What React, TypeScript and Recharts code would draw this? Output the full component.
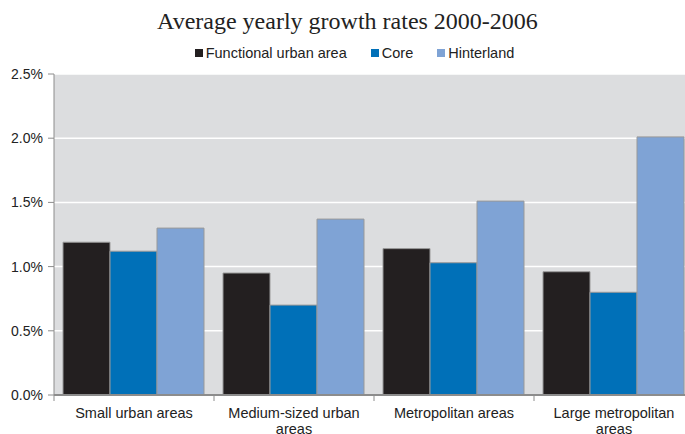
import { BarChart, Bar, XAxis, YAxis, CartesianGrid } from 'recharts'

const categories = [
  'Small urban areas',
  'Medium-sized urban areas',
  'Metropolitan areas',
  'Large metropolitan areas',
]
// label line breaks as printed
const labelLines = [
  ['Small urban areas'],
  ['Medium-sized urban', 'areas'],
  ['Metropolitan areas'],
  ['Large metropolitan', 'areas'],
]
const functionalUrban = [1.19, 0.95, 1.14, 0.96]
const core = [1.12, 0.7, 1.03, 0.8]
const hinterland = [1.3, 1.37, 1.51, 2.01]
const yTicks = [0, 0.5, 1, 1.5, 2, 2.5]

const COLORS = { fua: '#231f20', core: '#0070b8', hinter: '#7fa3d5' }
const FONT = '"Liberation Sans", Arial, sans-serif'

const data = categories.map((c, i) => ({
  name: c,
  fua: functionalUrban[i],
  core: core[i],
  hinter: hinterland[i],
}))

const CHART_W = 694
const Y_W = 54
const HALF_BAND = (CHART_W - Y_W) / categories.length / 2

function CategoryTick(props: any) {
  const { x, y, payload, index } = props
  const lines = labelLines[index] ?? [payload.value]
  return (
    <g>
      <line x1={x - HALF_BAND} x2={x - HALF_BAND} y1={y} y2={y + 6} stroke="#8c8c8c" />
      {lines.map((l: string, i: number) => (
        <text
          key={i}
          x={x}
          y={y + 23 + i * 16}
          textAnchor="middle"
          fontSize={14.5}
          fontFamily={FONT}
          fill="#222"
        >
          {l}
        </text>
      ))}
    </g>
  )
}

const legendItems = [
  { label: 'Functional urban area', color: COLORS.fua },
  { label: 'Core', color: COLORS.core },
  { label: 'Hinterland', color: COLORS.hinter },
]

export default function App() {
  return (
    <div
      style={{
        position: 'absolute',
        left: 0,
        top: 0,
        width: 685,
        height: 434,
        overflow: 'hidden',
        background: '#fff',
      }}
    >
      <div
        style={{
          position: 'absolute',
          top: 8,
          left: 5,
          width: 685,
          textAlign: 'center',
          fontFamily: '"Liberation Serif", "Times New Roman", serif',
          fontSize: 24,
          color: '#222',
        }}
      >
        Average yearly growth rates 2000-2006
      </div>
      <div
        style={{
          position: 'absolute',
          top: 45,
          left: 12,
          width: 685,
          display: 'flex',
          justifyContent: 'center',
          fontFamily: FONT,
          fontSize: 14.5,
          color: '#222',
        }}
      >
        {legendItems.map(it => (
          <div key={it.label} style={{ display: 'flex', alignItems: 'center', margin: '0 12px' }}>
            <span
              style={{ width: 8, height: 8, background: it.color, marginRight: 3, display: 'inline-block' }}
            />
            {it.label}
          </div>
        ))}
      </div>
      <BarChart
        width={CHART_W}
        height={434}
        data={data}
        margin={{ top: 74, right: 0, left: 0, bottom: 0 }}
        barCategoryGap={9}
        barGap={0}
        style={{ position: 'absolute', left: 0, top: 0 }}
      >
        <CartesianGrid vertical={false} stroke="#ffffff" strokeWidth={1.5} fill="#dcdddf" />
        <XAxis
          dataKey="name"
          height={39}
          interval={0}
          tickLine={false}
          tickSize={0}
          tickMargin={0}
          tick={<CategoryTick />}
          axisLine={{ stroke: '#8c8c8c', strokeWidth: 2 }}
        />
        <YAxis
          width={Y_W}
          domain={[0, 2.5]}
          ticks={yTicks}
          tickFormatter={(v: number) => v.toFixed(1) + '%'}
          tickSize={6}
          tickMargin={5}
          tick={{ fontSize: 14, fontFamily: FONT, fill: '#222' }}
          tickLine={{ stroke: '#8c8c8c' }}
          axisLine={{ stroke: '#8c8c8c' }}
        />
        <Bar dataKey="fua" fill={COLORS.fua} stroke="#999" strokeWidth={1} isAnimationActive={false} />
        <Bar dataKey="core" fill={COLORS.core} stroke="#999" strokeWidth={1} isAnimationActive={false} />
        <Bar dataKey="hinter" fill={COLORS.hinter} stroke="#999" strokeWidth={1} isAnimationActive={false} />
      </BarChart>
    </div>
  )
}
